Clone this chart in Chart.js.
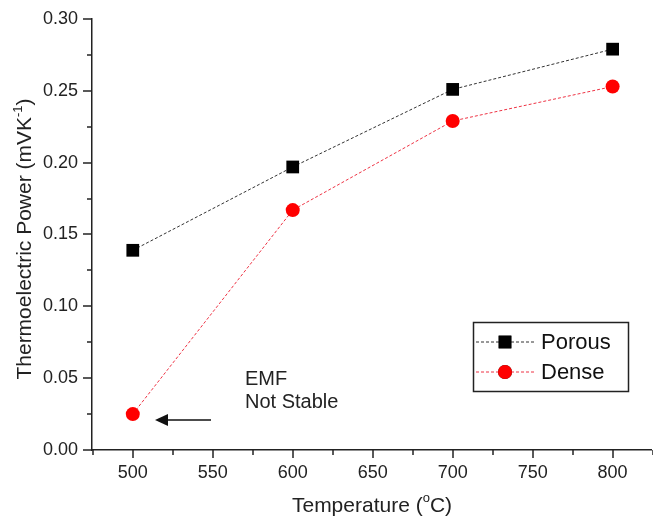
<!DOCTYPE html>
<html>
<head>
<meta charset="utf-8">
<script src="https://cdn.jsdelivr.net/npm/chart.js@4"></script>
<style>
  html, body { margin: 0; padding: 0; background: #fff; overflow: hidden; }
  canvas { display: block; }
</style>
</head>
<body>
<canvas id="chart" width="653" height="517"></canvas>
<script>
// data
const temps = [500, 600, 700, 800]
const porous = [0.139, 0.197, 0.251, 0.279]
const dense = [0.025, 0.167, 0.229, 0.253]
const xTicks = [500, 550, 600, 650, 700, 750, 800]
const yTicks = [0, 0.05, 0.10, 0.15, 0.20, 0.25, 0.30]

const FONT = '"Liberation Sans", Arial, sans-serif'

// ticks, axis titles, legend and the "EMF not stable" note
const extras = {
  id: 'extras',
  afterDraw(chart) {
    const ctx = chart.ctx
    const xs = chart.scales.x
    const ys = chart.scales.y
    const area = chart.chartArea
    ctx.save()
    ctx.strokeStyle = '#222'
    ctx.lineWidth = 1.5

    // x ticks (major every 50, minor every 25)
    for (let v = 475; v <= 825; v += 25) {
      const px = Math.round(xs.getPixelForValue(v))
      if (px > chart.width) continue
      const len = v % 50 === 0 ? 8 : 5
      ctx.beginPath()
      ctx.moveTo(px, area.bottom)
      ctx.lineTo(px, area.bottom + len)
      ctx.stroke()
    }
    // y ticks
    for (let i = 0; i <= 12; i++) {
      const v = i * 0.025
      const py = Math.round(ys.getPixelForValue(v))
      const len = i % 2 === 0 ? 9 : 5
      ctx.beginPath()
      ctx.moveTo(area.left, py)
      ctx.lineTo(area.left - len, py)
      ctx.stroke()
    }

    ctx.fillStyle = '#222'
    ctx.textBaseline = 'alphabetic'
    ctx.textAlign = 'left'

    // x title with superscript
    const t1 = 'Temperature ('
    const t2 = 'o'
    const t3 = 'C)'
    ctx.font = '21px ' + FONT
    const w1 = ctx.measureText(t1).width
    const w3 = ctx.measureText(t3).width
    ctx.font = '13px ' + FONT
    const w2 = ctx.measureText(t2).width
    const x0 = 372 - (w1 + w2 + w3) / 2
    const by = 512
    ctx.font = '21px ' + FONT
    ctx.fillText(t1, x0, by)
    ctx.font = '13px ' + FONT
    ctx.fillText(t2, x0 + w1, by - 10)
    ctx.font = '21px ' + FONT
    ctx.fillText(t3, x0 + w1 + w2, by)

    // y title, rotated
    ctx.save()
    ctx.translate(31, 239)
    ctx.rotate(-Math.PI / 2)
    const s1 = 'Thermoelectric Power (mVK'
    const s2 = '-1'
    const s3 = ')'
    ctx.font = '21px ' + FONT
    const a1 = ctx.measureText(s1).width
    const a3 = ctx.measureText(s3).width
    ctx.font = '13px ' + FONT
    const a2 = ctx.measureText(s2).width
    const y0 = -(a1 + a2 + a3) / 2
    ctx.font = '21px ' + FONT
    ctx.fillText(s1, y0, 0)
    ctx.font = '13px ' + FONT
    ctx.fillText(s2, y0 + a1, -9)
    ctx.font = '21px ' + FONT
    ctx.fillText(s3, y0 + a1 + a2, 0)
    ctx.restore()

    // legend box
    ctx.lineWidth = 1.5
    ctx.strokeStyle = '#222'
    ctx.strokeRect(473.5, 322.5, 155, 69)
    const rows = [
      { label: 'Porous', y: 342, ds: chart.data.datasets[0] },
      { label: 'Dense', y: 372, ds: chart.data.datasets[1] }
    ]
    rows.forEach(r => {
      ctx.save()
      ctx.strokeStyle = r.ds.borderColor
      ctx.lineWidth = 1
      ctx.setLineDash([3, 2])
      ctx.beginPath()
      ctx.moveTo(476, r.y)
      ctx.lineTo(534, r.y)
      ctx.stroke()
      ctx.restore()
      Chart.helpers.drawPoint(ctx, {
        pointStyle: r.ds.pointStyle,
        radius: r.ds.pointRadius,
        borderWidth: 0,
        rotation: 0
      }, 505, r.y)
      ctx.fillStyle = r.ds.backgroundColor
      ctx.fill()
      ctx.fillStyle = '#111'
      ctx.font = '22px ' + FONT
      ctx.textBaseline = 'middle'
      ctx.textAlign = 'left'
      ctx.fillText(r.label, 541, r.y + 1)
    })

    // annotation
    ctx.fillStyle = '#222'
    ctx.font = '20px ' + FONT
    ctx.textBaseline = 'middle'
    ctx.fillText('EMF', 245, 379)
    ctx.fillText('Not Stable', 245, 402)

    // arrow
    ctx.strokeStyle = '#111'
    ctx.lineWidth = 1.5
    ctx.beginPath()
    ctx.moveTo(211, 420)
    ctx.lineTo(164, 420)
    ctx.stroke()
    ctx.fillStyle = '#111'
    ctx.beginPath()
    ctx.moveTo(155, 420)
    ctx.lineTo(168, 414)
    ctx.lineTo(168, 426)
    ctx.closePath()
    ctx.fill()

    ctx.restore()
  }
}

new Chart(document.getElementById('chart'), {
  type: 'line',
  data: {
    datasets: [
      {
        label: 'Porous',
        data: temps.map((t, i) => ({ x: t, y: porous[i] })),
        borderColor: '#333',
        backgroundColor: '#000',
        borderWidth: 1,
        borderDash: [3, 2],
        pointStyle: 'rect',
        pointRadius: 9,
        pointBorderWidth: 0,
        tension: 0
      },
      {
        label: 'Dense',
        data: temps.map((t, i) => ({ x: t, y: dense[i] })),
        borderColor: '#ee3344',
        backgroundColor: '#ff0000',
        borderWidth: 1,
        borderDash: [3, 2],
        pointStyle: 'circle',
        pointRadius: 7,
        pointBorderWidth: 0,
        tension: 0
      }
    ]
  },
  options: {
    responsive: false,
    animation: false,
    layout: { autoPadding: false, padding: { left: 0, top: 19, right: 2, bottom: 0 } },
    plugins: {
      legend: { display: false },
      tooltip: { enabled: false }
    },
    scales: {
      x: {
        type: 'linear',
        min: 474.5,
        max: 824,
        afterBuildTicks: s => { s.ticks = xTicks.map(v => ({ value: v })) },
        afterFit: s => { s.height = 67; s.paddingLeft = 0; s.paddingRight = 0 },
        grid: { display: false, drawTicks: false },
        border: { display: true, color: '#222', width: 1.5 },
        ticks: {
          padding: 12,
          color: '#222',
          font: { family: FONT, size: 18 },
          maxRotation: 0,
          autoSkip: false
        }
      },
      y: {
        min: 0,
        max: 0.3,
        afterBuildTicks: s => { s.ticks = yTicks.map(v => ({ value: v })) },
        afterFit: s => { s.width = 92; s.paddingTop = 0; s.paddingBottom = 0 },
        grid: { display: false, drawTicks: false },
        border: { display: true, color: '#222', width: 1.5 },
        ticks: {
          padding: 14,
          color: '#222',
          font: { family: FONT, size: 18 },
          callback: v => v.toFixed(2)
        }
      }
    }
  },
  plugins: [extras]
})
</script>
</body>
</html>
